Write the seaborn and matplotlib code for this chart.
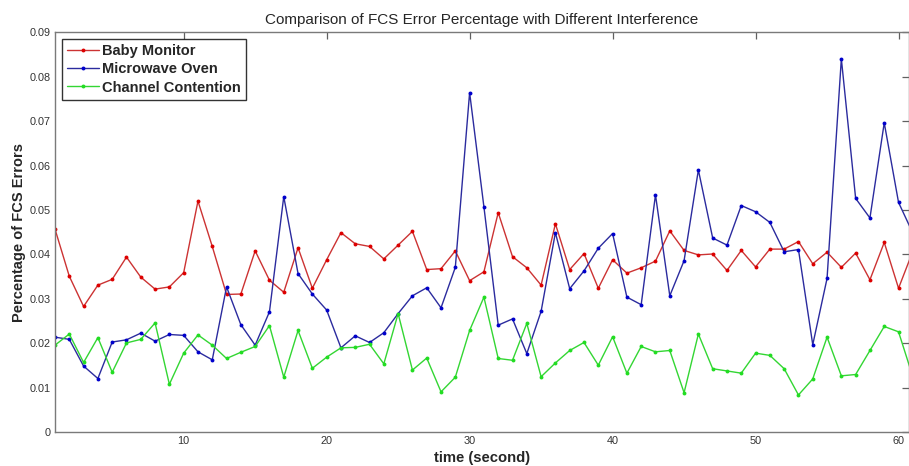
import numpy as np
import pandas as pd
import matplotlib.pyplot as plt
import seaborn as sns

# data
seconds = list(range(1, 62))
series_names = ['Baby Monitor', 'Microwave Oven', 'Channel Contention']

baby_monitor = [0.0457, 0.0351, 0.0283, 0.0331, 0.0344, 0.0394, 0.0349, 0.0322, 0.0327, 0.0359,
                0.0520, 0.0418, 0.0310, 0.0311, 0.0408, 0.0342, 0.0315, 0.0415, 0.0324, 0.0388,
                0.0449, 0.0424, 0.0418, 0.0390, 0.0421, 0.0452, 0.0366, 0.0368, 0.0408, 0.0341,
                0.0361, 0.0494, 0.0395, 0.0370, 0.0331, 0.0469, 0.0366, 0.0402, 0.0324, 0.0388,
                0.0358, 0.0370, 0.0385, 0.0453, 0.0409, 0.0399, 0.0401, 0.0364, 0.0409, 0.0372,
                0.0412, 0.0412, 0.0429, 0.0379, 0.0405, 0.0371, 0.0403, 0.0343, 0.0427, 0.0324,
                0.0407]
microwave_oven = [0.0214, 0.0209, 0.0149, 0.0121, 0.0203, 0.0208, 0.0223, 0.0205, 0.0220, 0.0218,
                  0.0181, 0.0163, 0.0327, 0.0242, 0.0196, 0.0271, 0.0530, 0.0357, 0.0311, 0.0275,
                  0.0190, 0.0217, 0.0202, 0.0224, 0.0267, 0.0307, 0.0325, 0.0280, 0.0371, 0.0764,
                  0.0507, 0.0241, 0.0255, 0.0177, 0.0272, 0.0449, 0.0323, 0.0363, 0.0414, 0.0447,
                  0.0304, 0.0287, 0.0534, 0.0307, 0.0386, 0.0590, 0.0437, 0.0421, 0.0510, 0.0496,
                  0.0472, 0.0406, 0.0411, 0.0197, 0.0346, 0.0840, 0.0526, 0.0482, 0.0696, 0.0517,
                  0.0448]
channel_contention = [0.0196, 0.0221, 0.0157, 0.0213, 0.0135, 0.0201, 0.0209, 0.0246, 0.0108, 0.0178,
                      0.0219, 0.0196, 0.0166, 0.0180, 0.0193, 0.0240, 0.0124, 0.0229, 0.0144, 0.0169,
                      0.0190, 0.0191, 0.0198, 0.0154, 0.0267, 0.0140, 0.0167, 0.0091, 0.0124, 0.0229,
                      0.0304, 0.0166, 0.0162, 0.0245, 0.0125, 0.0156, 0.0184, 0.0202, 0.0151, 0.0215,
                      0.0133, 0.0193, 0.0181, 0.0184, 0.0089, 0.0221, 0.0143, 0.0138, 0.0133, 0.0178,
                      0.0173, 0.0143, 0.0084, 0.0120, 0.0214, 0.0127, 0.0130, 0.0184, 0.0238, 0.0226,
                      0.0125]

x_ticks = [10, 20, 30, 40, 50, 60]
y_ticks = [0, 0.01, 0.02, 0.03, 0.04, 0.05, 0.06, 0.07, 0.08, 0.09]
y_tick_labels = ['0', '0.01', '0.02', '0.03', '0.04', '0.05', '0.06', '0.07', '0.08', '0.09']

df = pd.DataFrame({
    'time': seconds * 3,
    'value': baby_monitor + microwave_oven + channel_contention,
    'series': [series_names[0]] * 61 + [series_names[1]] * 61 + [series_names[2]] * 61,
})

sns.set_style('white')
plt.rcParams['font.family'] = ['Liberation Sans', 'DejaVu Sans']

line_colors = {'Baby Monitor': '#cc3333', 'Microwave Oven': '#2b2b9e', 'Channel Contention': '#33d633'}
marker_colors = ['#dd0000', '#0000cc', '#22dd22']

fig = plt.figure(figsize=(9.09, 4.66), dpi=100)
ax = fig.add_axes([0.0605, 0.0723, 0.9390, 0.8588])

sns.lineplot(data=df, x='time', y='value', hue='series', palette=line_colors,
             linewidth=1.0, marker='o', markersize=2.8, markeredgewidth=0,
             ax=ax, legend=False, sort=True)
for line, mc in zip(ax.get_lines(), marker_colors):
    line.set_markerfacecolor(mc)

ax.set_xlim(1, 60.7)
ax.set_ylim(0, 0.09)
ax.set_xticks(x_ticks)
ax.set_xticklabels([str(t) for t in x_ticks])
ax.set_yticks(y_ticks)
ax.set_yticklabels(y_tick_labels)
ax.tick_params(direction='in', length=5, width=0.9, color='#606060', labelcolor='#333333',
               labelsize=7.8, top=True, right=True, pad=3)
for sp in ax.spines.values():
    sp.set_visible(True)
    sp.set_color('#7a7a7a')
    sp.set_linewidth(1.0)

ax.set_title('Comparison of FCS Error Percentage with Different Interference', fontsize=11, pad=6)
ax.set_xlabel('time (second)', fontsize=10.6, fontweight='bold', labelpad=3.5)
ax.set_ylabel('Percentage of FCS Errors', fontsize=10.5, fontweight='bold', labelpad=3)

handles = []
for name, mc in zip(series_names, marker_colors):
    h, = ax.plot([], [], color=line_colors[name], lw=1.0, marker='o', markersize=2.8,
                 markerfacecolor=mc, markeredgewidth=0)
    handles.append(h)
leg = ax.legend(handles, series_names, loc='upper left', bbox_to_anchor=(0.008, 0.9835),
                prop={'weight': 'bold', 'size': 10.5}, frameon=True, fancybox=False,
                edgecolor='black', handlelength=2.2, handletextpad=0.2, borderpad=0.35,
                labelspacing=0.3, borderaxespad=0)
leg.get_frame().set_linewidth(1.0)

fig.savefig('out.png', dpi=100)
